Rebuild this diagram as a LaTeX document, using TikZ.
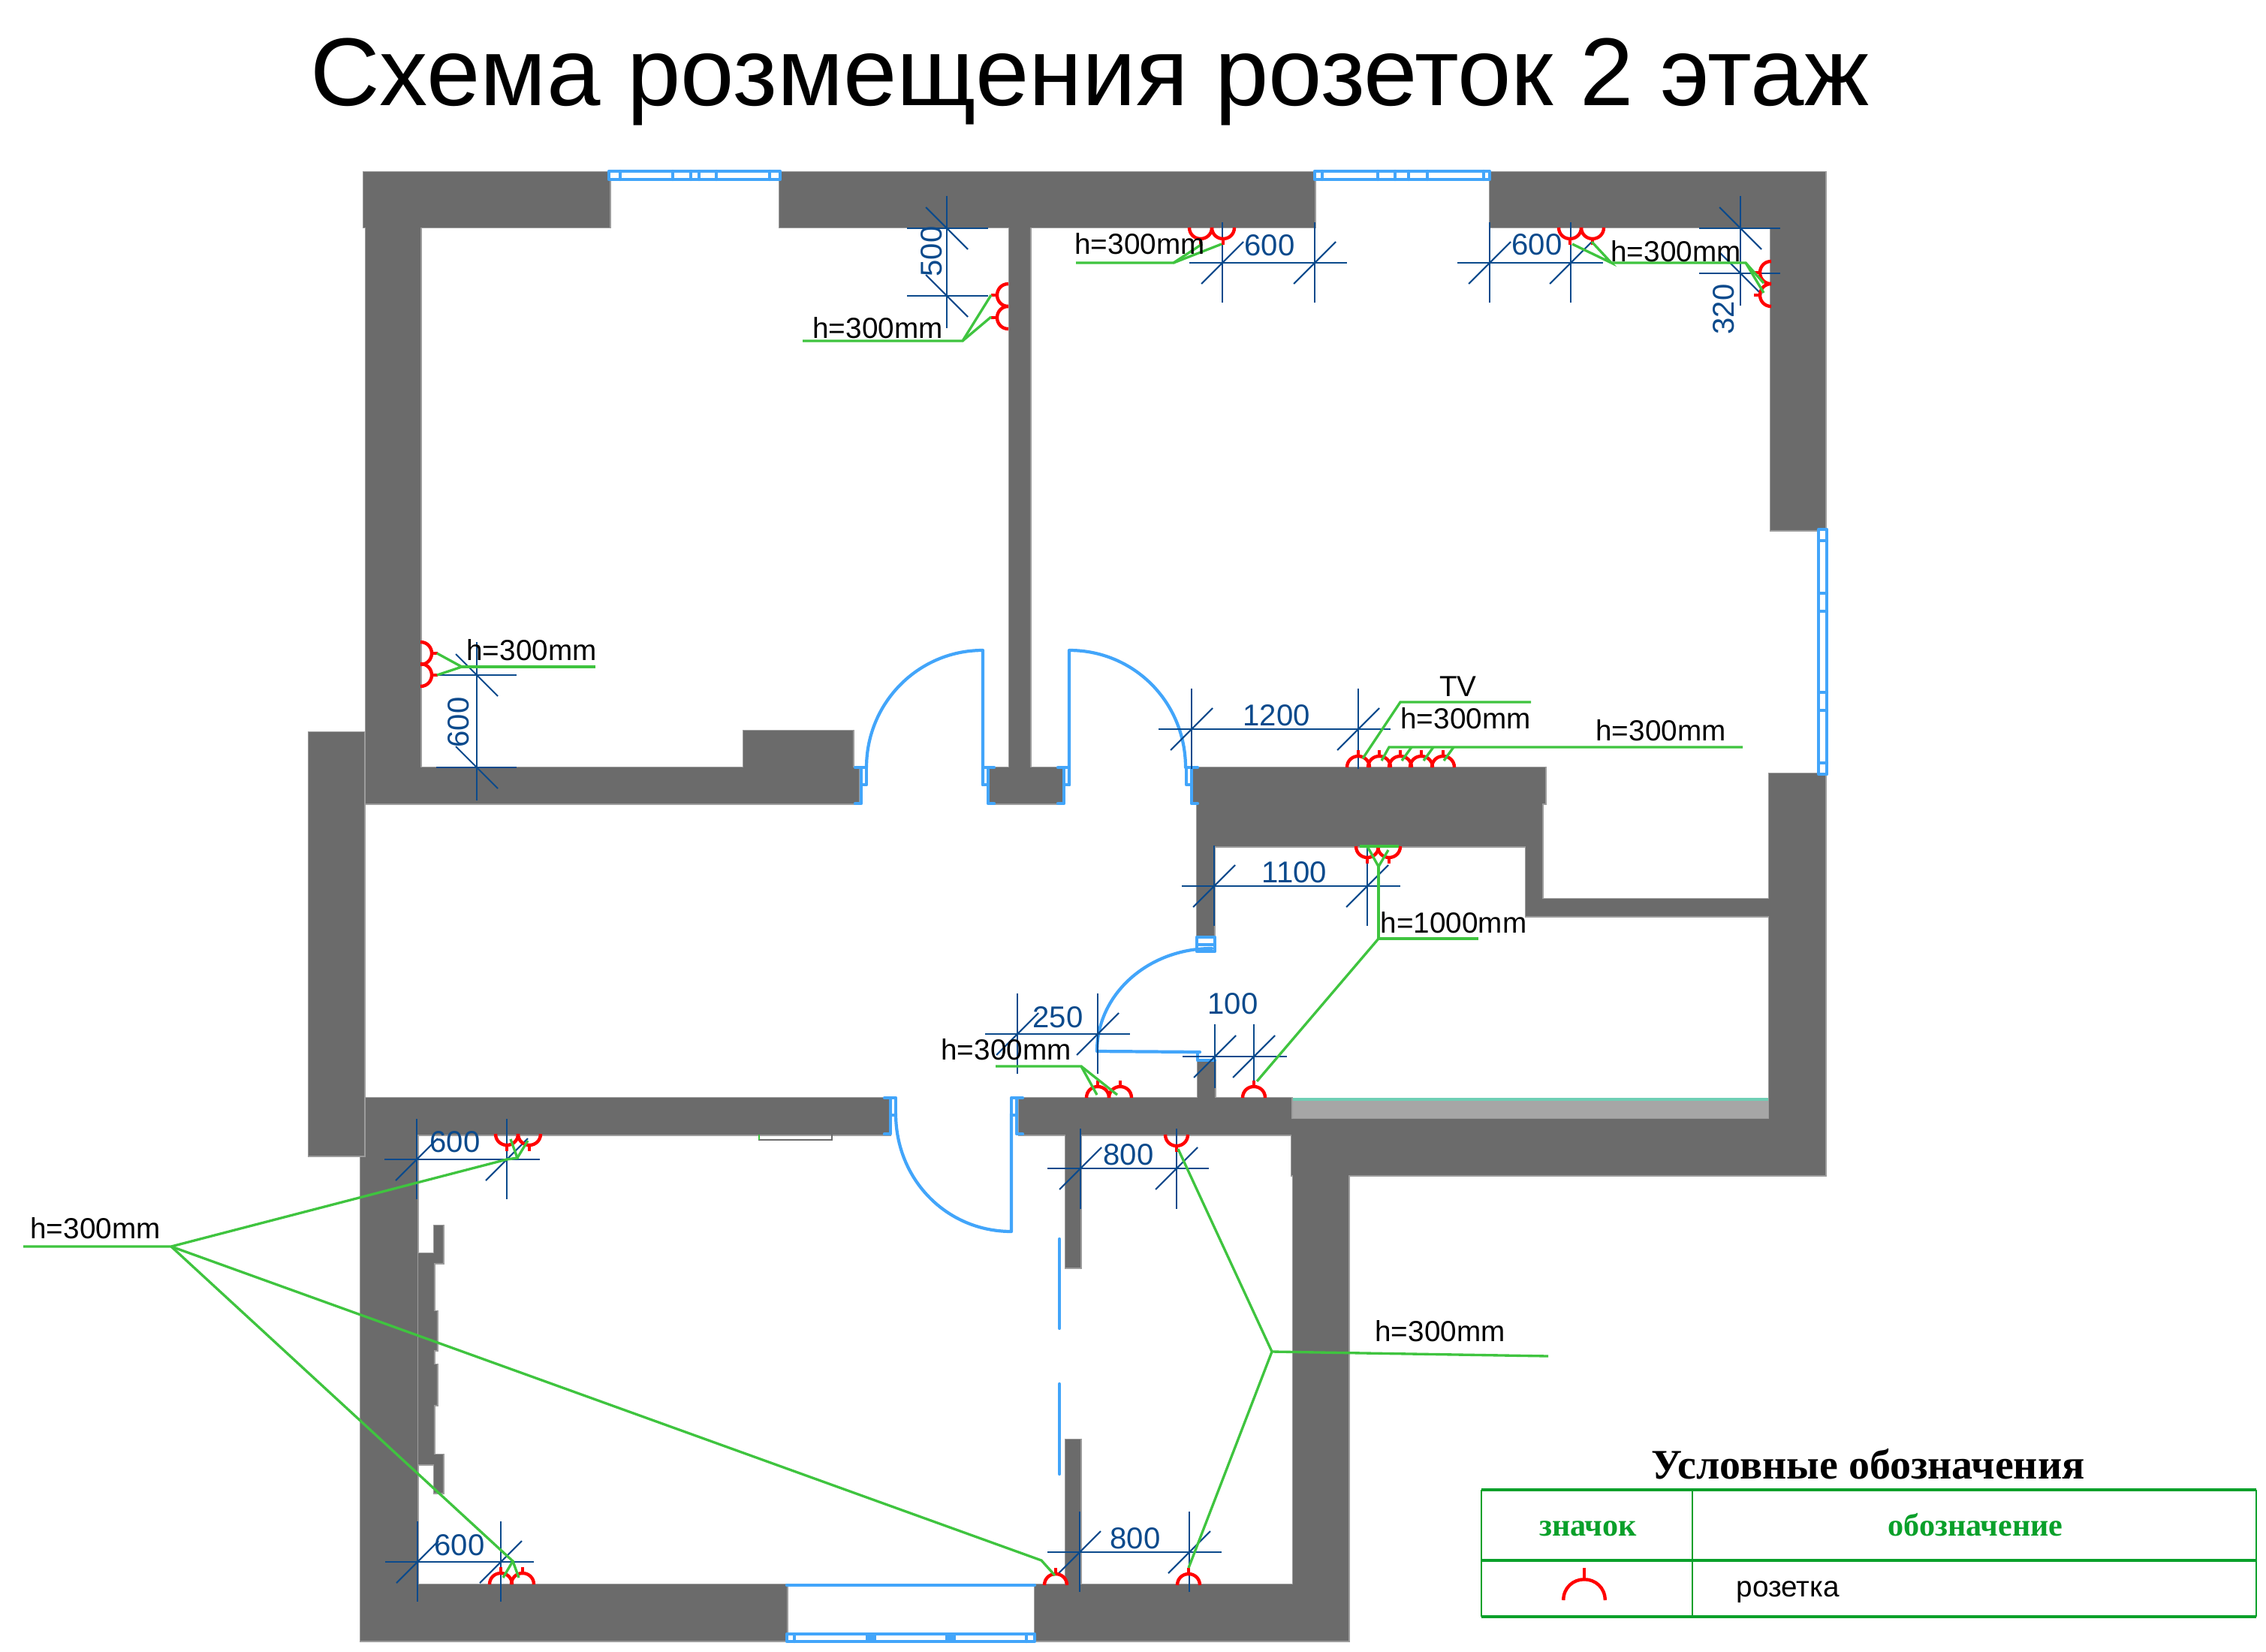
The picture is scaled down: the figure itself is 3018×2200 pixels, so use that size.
\documentclass[tikz,border=0pt]{standalone}
\usepackage{fontspec}
\setmainfont{Liberation Sans}
\newfontfamily\legendfont{Liberation Serif}
\definecolor{wallgray}{HTML}{6B6B6B}
\definecolor{wallrim}{HTML}{9C9C9C}
\definecolor{winblue}{HTML}{42A5FA}
\definecolor{dimblue}{HTML}{0B4A8C}
\definecolor{leadgreen}{HTML}{3FC43F}
\definecolor{tablegreen}{HTML}{0AA02A}
\definecolor{balconyline}{HTML}{6FCFB5}
\tikzset{
  winline/.style = {draw=winblue,line width=1.2pt,line cap=round,line join=round},
  dimline/.style = {draw=dimblue,line width=0.6pt},
  leadline/.style = {draw=leadgreen,line width=0.95pt},
  socketline/.style = {draw=red,line width=1.25pt},
  lbl/.style = {font=\fontsize{11}{13}\selectfont,inner sep=0pt},
  dimlbl/.style = {font=\fontsize{11.4}{13}\selectfont,text=dimblue,inner sep=0pt},
  socket/.pic = {
    \draw[socketline] (-15,0) .. controls (-15,-9) and (-8,-15) .. (0,-15)
      .. controls (8,-15) and (15,-9) .. (15,0);
    \draw[socketline] (0,-15) -- (0,-23);
  },
  jamb/.pic = {
    \draw[winline] (8,0) -- (0,0) -- (0,48) -- (8,48);
    \draw[winline] (0,0) -- (-7,0) -- (-7,23) -- (0,23);
  }
}
\newcommand{\wallrects}{484/229/812/303, 1038/229/1751/303, 1984/229/2431/303,
  1344/303/1372/1022, 487/229/560/1069, 487/1022/1144/1070, 990/973/1136/1022,
  1318/1022/1415/1070, 1589/1022/2058/1070, 1594/1070/2054/1127, 2032/1127/2054/1220,
  2032/1197/2356/1220, 2356/1030/2431/1565, 2358/229/2431/706, 1594/1127/1617/1248,
  1595/1412/1618/1462, 1357/1462/1720/1511, 487/1462/1185/1511, 411/975/485/1539,
  480/1541/556/2185, 487/1511/556/1541, 480/2110/1048/2185, 1378/2110/1796/2185, 1720/1490/2431/1565,
  1722/1565/1796/2185, 1419/1511/1439/1688, 1419/1917/1439/2111,
  557/1669/578/1950, 578/1632/590/1682, 578/1937/590/1988, 578/1746/582/1798, 578/1817/582/1871}

\begin{document}
\begin{tikzpicture}[x=0.01cm,y=-0.01cm]
  \useasboundingbox (0,0) rectangle (3018,2200);
  %
  \node[font=\fontsize{36.5}{44}\selectfont,inner sep=0pt] (title) at (1451,109) {Схема розмещения розеток 2 этаж};
  %
  \fill[wallrim!90!white] (1720,1462) rectangle (2356,1490);
  \draw[draw=balconyline,line width=1pt] (1720,1464) -- (2356,1464);
  \foreach \xa/\ya/\xb/\yb in \wallrects
    \draw[wallrim,line width=0.85pt] (\xa,\ya) rectangle (\xb,\yb);
  \foreach \xa/\ya/\xb/\yb in \wallrects
    \fill[wallgray] (\xa,\ya) rectangle (\xb,\yb);
  %
  \draw[wallgray,line width=0.8pt] (1011,1511) -- (1011,1518) -- (1108,1518) -- (1108,1511);
  \draw[leadgreen,line width=0.8pt] (1011,1511) -- (1011,1518);
  %
  \draw[winline,fill=white] (811,228) rectangle (1039,239);
  \foreach \m in {826,896,920,931,954,1025}
    \draw[winline] (\m,228) -- (\m,239);
  \draw[winline,fill=white] (1751,228) rectangle (1984,239);
  \foreach \m in {1761,1835,1858,1876,1901,1976}
    \draw[winline] (\m,228) -- (\m,239);
  \draw[winline,fill=white] (2422,705) rectangle (2433,1031);
  \foreach \m in {720,790,814,922,946,1016}
    \draw[winline] (2422,\m) -- (2433,\m);
  \draw[winline] (1048,2111) -- (1378,2111);
  \draw[winline,fill=white] (1048,2176) rectangle (1378,2186);
  \foreach \m in {1058,1367}
    \draw[winline] (\m,2176) -- (\m,2186);
  \fill[winblue] (1153,2176) rectangle (1167,2186);
  \fill[winblue] (1259,2176) rectangle (1273,2186);
  %
  \pic[xscale=-1] at (1147,1022) {jamb};
  \pic at (1316,1022) {jamb};
  \pic[xscale=-1] at (1417,1022) {jamb};
  \pic at (1587,1022) {jamb};
  \pic[xscale=-1] at (1186,1462) {jamb};
  \pic at (1354,1462) {jamb};
  %
  \draw[winline] (1154,1022) .. controls (1154,936) and (1223,866) .. (1309,866) -- (1309,1045);
  \draw[winline] (1579,1022) .. controls (1579,936) and (1511,866) .. (1424,866) -- (1424,1045);
  \draw[winline] (1193,1483) .. controls (1193,1570) and (1260,1640) .. (1347,1640) -- (1347,1483);
  \draw[winline] (1614,1263) .. controls (1529,1263) and (1461,1324) .. (1461,1400) -- (1598,1401);
  \draw[winline] (1594,1248) rectangle (1618,1267);
  \draw[winline] (1594,1258) -- (1618,1258);
  \draw[winline] (1595,1401) -- (1595,1412) -- (1618,1412);
  \draw[winline] (1411,1650) -- (1411,1769);
  \draw[winline] (1411,1843) -- (1411,1963);
  %
  \foreach \yy/\xa/\xb/\xl/\xr/\ya/\yb in {350/1628/1751/1584/1794/296/403,
      350/1984/2092/1941/2135/296/403, 971/1587/1809/1543/1852/917/1024,
      1180/1617/1821/1574/1865/1126/1233, 1377/1355/1462/1312/1505/1323/1430,
      1407/1618/1670/1575/1714/1364/1449, 1556/1439/1567/1395/1610/1503/1610,
      2067/1438/1584/1395/1627/2013/2120, 1544/555/675/512/719/1490/1597,
      2080/556/667/513/711/2026/2133} {
    \draw[dimline] (\xl,\yy) -- (\xr,\yy);
    \foreach \xx in {\xa,\xb} {
      \draw[dimline] (\xx,\ya) -- (\xx,\yb);
      \draw[dimline] (\xx-28,\yy+28) -- (\xx+28,\yy-28);
    }
  }
  \foreach \xx/\ya/\yb/\ta/\tb/\xl/\xr in {1261/304/394/261/437/1208/1316,
      2318/304/364/261/407/2263/2371, 635/899/1022/855/1066/581/688} {
    \draw[dimline] (\xx,\ta) -- (\xx,\tb);
    \foreach \yy in {\ya,\yb} {
      \draw[dimline] (\xl,\yy) -- (\xr,\yy);
      \draw[dimline] (\xx-28,\yy-28) -- (\xx+28,\yy+28);
    }
  }
  %
  \node[dimlbl] (dimTopA) at (1691,327) {600};
  \node[dimlbl] (dimTopB) at (2047,326) {600};
  \node[dimlbl,rotate=90] (dimPart) at (1241,335) {500};
  \node[dimlbl,rotate=90] (dimRight) at (2296,412) {320};
  \node[dimlbl,rotate=90] (dimRoom) at (611,962) {600};
  \node[dimlbl] (dimTv) at (1700,953) {1200};
  \node[dimlbl] (dimHall) at (1724,1162) {1100};
  \node[dimlbl] (dimDoor) at (1409,1355) {250};
  \node[dimlbl] (dimPost) at (1642,1337) {100};
  \node[dimlbl] (dimStubA) at (1503,1538) {800};
  \node[dimlbl] (dimStubB) at (1512,2049) {800};
  \node[dimlbl] (dimLowA) at (606,1521) {600};
  \node[dimlbl] (dimLowB) at (612,2058) {600};
  %
  \foreach \xx/\yy/\rot in {1343/393/90, 1343/423/90, 1599/303/180, 1629/303/180,
      2091/303/180, 2121/303/180, 2359/363/90, 2359/393/90, 560/870/-90, 560/899/-90,
      1809/1022/0, 1837/1022/0, 1865/1022/0, 1893/1022/0, 1922/1022/0,
      1821/1127/180, 1850/1127/180, 1462/1462/0, 1492/1462/0, 1670/1462/0,
      1567/1511/180, 675/1510/180, 705/1510/180, 667/2110/0, 696/2110/0,
      1406/2111/0, 1583/2111/0}
    \pic[rotate=\rot] at (\xx,\yy) {socket};
  %
  \coordinate (hubPart) at (1282,454);
  \coordinate (hubTopA) at (1563,350);
  \coordinate (hubTopB) at (2146,350);
  \coordinate (hubRight) at (2325,350);
  \coordinate (hubRoom) at (615,888);
  \coordinate (hubTv) at (1865,935);
  \coordinate (hubRow) at (1850,995);
  \coordinate (hubCup) at (1836,1154);
  \coordinate (hubHall) at (1836,1250);
  \coordinate (hubDoor) at (1440,1420);
  \coordinate (hubWest) at (228,1660);
  \coordinate (hubEast) at (1694,1800);
  \coordinate (hubKinkA) at (683,2079);
  \coordinate (hubKinkB) at (1387,2078);
  \coordinate (hubKinkC) at (689,1542);
  %
  \draw[leadline] (1069,454) -- (hubPart) -- (1320,393);
  \draw[leadline] (hubPart) -- (1320,422);
  \draw[leadline] (1433,350) -- (hubTopA) -- (1601,325);
  \draw[leadline] (hubTopA) -- (1627,325);
  \draw[leadline] (2094,325) -- (hubTopB) -- (2120,322);
  \draw[leadline] (hubTopB) -- (hubRight) -- (2349,377);
  \draw[leadline] (hubRight) -- (2349,390);
  \draw[leadline] (582,870) -- (hubRoom) -- (582,899);
  \draw[leadline] (hubRoom) -- (793,888);
  \draw[leadline] (2039,935) -- (hubTv) -- (1815,1010);
  \draw[leadline] (2321,995) -- (hubRow) -- (1840,1013);
  \foreach \xa/\xb in {1880/1867,1909/1896,1936/1923}
    \draw[leadline] (\xa,995) -- (\xb,1013);
  \draw[leadline] (1811,1127) -- (1863,1127);
  \draw[leadline] (1821,1127) -- (hubCup) -- (1849,1132);
  \draw[leadline] (hubCup) -- (hubHall) -- (1969,1250);
  \draw[leadline] (hubHall) -- (1674,1440);
  \draw[leadline] (1326,1420) -- (hubDoor) -- (1461,1458);
  \draw[leadline] (hubDoor) -- (1488,1458);
  \draw[leadline] (31,1660) -- (hubWest) -- (675,1544) -- (hubKinkC) -- (680,1517);
  \draw[leadline] (hubKinkC) -- (703,1519);
  \draw[leadline] (hubWest) -- (hubKinkB) -- (1405,2098);
  \draw[leadline] (hubWest) -- (hubKinkA) -- (670,2101);
  \draw[leadline] (hubKinkA) -- (691,2101);
  \draw[leadline] (2062,1806) -- (hubEast) -- (1569,1530);
  \draw[leadline] (hubEast) -- (1583,2088);
  %
  \node[lbl] (hPart) at (1169,437) {h=300mm};
  \node[lbl] (hTopA) at (1518,325) {h=300mm};
  \node[lbl] (hTopB) at (2232,335) {h=300mm};
  \node[lbl] (hRoom) at (708,866) {h=300mm};
  \node[lbl] (tv) at (1942,914) {TV};
  \node[lbl] (hTv) at (1952,957) {h=300mm};
  \node[lbl] (hRow) at (2212,973) {h=300mm};
  \node[lbl] (hHall) at (1936,1229) {h=1000mm};
  \node[lbl] (hDoor) at (1340,1398) {h=300mm};
  \node[lbl] (hWest) at (127,1636) {h=300mm};
  \node[lbl] (hEast) at (1918,1773) {h=300mm};
  %
  \node[font=\legendfont\bfseries\fontsize{15.9}{18}\selectfont,inner sep=0pt] (legendTitle) at (2488,1950) {Условные обозначения};
  \draw[tablegreen,line width=1.1pt] (1973,1984) -- (3005,1984);
  \draw[tablegreen,line width=1.1pt] (1973,2078) -- (3005,2078);
  \draw[tablegreen,line width=1.1pt] (1973,2153) -- (3005,2153);
  \draw[tablegreen,line width=0.8pt] (1973,1984) -- (1973,2153);
  \draw[tablegreen,line width=0.8pt] (2254,1984) -- (2254,2153);
  \draw[tablegreen,line width=0.8pt] (3005,1984) -- (3005,2153);
  \node[font=\legendfont\bfseries\fontsize{12}{14}\selectfont,text=tablegreen,inner sep=0pt,anchor=base] (legendIcon) at (2115,2045) {значок};
  \node[font=\legendfont\bfseries\fontsize{12}{14}\selectfont,text=tablegreen,inner sep=0pt,anchor=base] (legendName) at (2631,2045) {обозначение};
  \pic[scale=1.85] at (2110,2131) {socket};
  \node[lbl,anchor=west] (legendSocket) at (2312,2120) {розетка};
\end{tikzpicture}
\end{document}
